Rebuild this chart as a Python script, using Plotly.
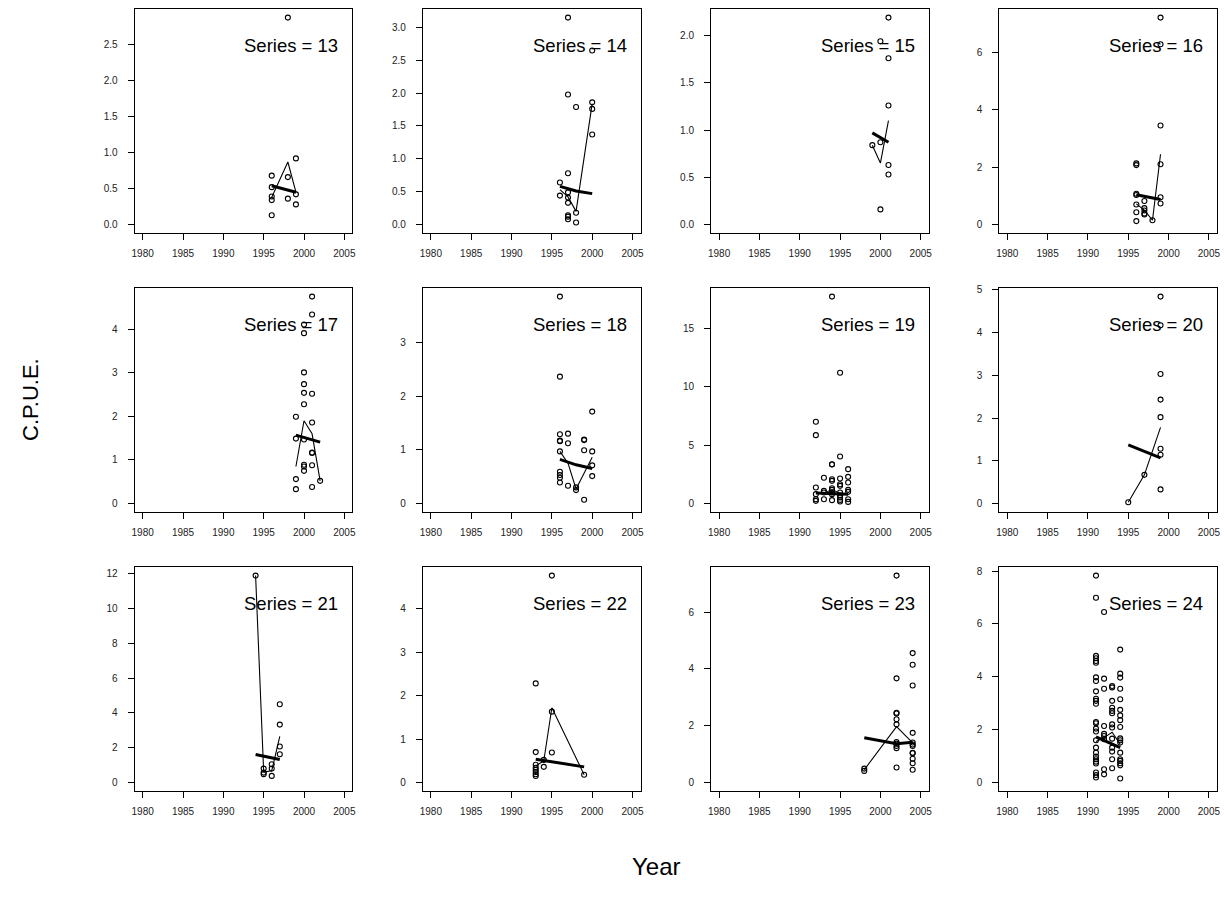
import plotly.graph_objects as go
from plotly.subplots import make_subplots

# ---------------- data ----------------
series_ids = [13, 14, 15, 16, 17, 18, 19, 20, 21, 22, 23, 24]
x_ticks = [1980, 1985, 1990, 1995, 2000, 2005]

s13_pts = {1996: [0.68, 0.52, 0.39, 0.34, 0.13], 1998: [2.88, 0.66, 0.36], 1999: [0.92, 0.42, 0.28]}
s13_mean_year = [1996, 1998, 1999]
s13_mean = [0.38, 0.87, 0.45]
s13_fit_year = [1996, 1999]
s13_fit = [0.54, 0.45]

s14_pts = {1996: [0.64, 0.44], 1997: [3.15, 1.98, 0.78, 0.49, 0.41, 0.33, 0.14, 0.12, 0.08],
           1998: [1.79, 0.18, 0.03], 2000: [2.65, 1.86, 1.76, 1.37]}
s14_mean_year = [1996, 1997, 1998, 2000]
s14_mean = [0.53, 0.42, 0.20, 1.84]
s14_fit_year = [1996, 1998, 2000]
s14_fit = [0.58, 0.51, 0.47]

s15_pts = {1999: [0.84], 2000: [1.94, 0.87, 0.16], 2001: [2.19, 1.76, 1.26, 0.63, 0.53]}
s15_mean_year = [1999, 2000, 2001]
s15_mean = [0.84, 0.65, 1.10]
s15_fit_year = [1999, 2001]
s15_fit = [0.97, 0.87]

s16_pts = {1996: [2.13, 2.07, 1.07, 1.03, 0.70, 0.43, 0.12], 1997: [0.82, 0.57, 0.49, 0.38, 0.35],
           1998: [0.15], 1999: [7.21, 6.28, 3.45, 2.10, 0.95, 0.73]}
s16_mean_year = [1996, 1997, 1998, 1999]
s16_mean = [0.72, 0.50, 0.15, 2.45]
s16_fit_year = [1996, 1999]
s16_fit = [1.04, 0.87]

s17_pts = {1999: [1.99, 1.49, 0.56, 0.33],
           2000: [4.11, 3.91, 3.01, 2.74, 2.54, 2.28, 1.47, 0.89, 0.85, 0.75],
           2001: [4.75, 4.34, 2.52, 1.86, 1.17, 1.16, 0.88, 0.38], 2002: [0.52]}
s17_mean_year = [1999, 2000, 2001, 2002]
s17_mean = [0.85, 1.90, 1.60, 0.52]
s17_fit_year = [1999, 2002]
s17_fit = [1.57, 1.41]

s18_pts = {1996: [3.85, 2.36, 1.29, 1.17, 1.16, 0.97, 0.59, 0.53, 0.48, 0.39], 1997: [1.30, 1.12, 0.33],
           1998: [0.30, 0.25], 1999: [1.19, 1.18, 0.99, 0.07], 2000: [1.71, 0.97, 0.71, 0.51]}
s18_mean_year = [1996, 1997, 1998, 1999, 2000]
s18_mean = [0.97, 0.75, 0.27, 0.56, 0.86]
s18_fit_year = [1996, 1998, 2000]
s18_fit = [0.82, 0.72, 0.65]

s19_pts = {1992: [6.99, 5.85, 1.37, 0.80, 0.37, 0.23], 1993: [2.20, 1.08, 0.94, 0.37],
           1994: [17.7, 3.36, 3.34, 2.08, 1.94, 1.31, 1.17, 0.94, 0.80, 0.29],
           1995: [11.18, 4.02, 2.14, 1.65, 1.51, 0.94, 0.71, 0.51, 0.31, 0.17],
           1996: [2.94, 2.28, 1.80, 1.17, 1.00, 0.37, 0.14]}
s19_mean_year = [1992, 1993, 1994, 1995, 1996]
s19_mean = [0.95, 0.88, 1.20, 0.85, 0.75]
s19_fit_year = [1992, 1996]
s19_fit = [0.90, 0.80]

s20_pts = {1995: [0.03], 1997: [0.67], 1999: [4.84, 4.17, 3.03, 2.43, 2.02, 1.28, 1.14, 0.33]}
s20_mean_year = [1995, 1997, 1999]
s20_mean = [0.03, 0.67, 1.78]
s20_fit_year = [1995, 1999]
s20_fit = [1.37, 1.07]

s21_pts = {1994: [11.9], 1995: [0.80, 0.57, 0.48], 1996: [1.05, 0.80, 0.38], 1997: [4.50, 3.33, 2.07, 1.63]}
s21_mean_year = [1994, 1995, 1996, 1997]
s21_mean = [11.9, 0.60, 0.68, 2.65]
s21_fit_year = [1994, 1997]
s21_fit = [1.61, 1.32]

s22_pts = {1993: [2.28, 0.70, 0.41, 0.34, 0.29, 0.24, 0.19, 0.15], 1994: [0.52, 0.36],
           1995: [4.76, 1.63, 0.69], 1999: [0.18]}
s22_mean_year = [1993, 1994, 1995, 1999]
s22_mean = [0.38, 0.50, 1.72, 0.18]
s22_fit_year = [1993, 1999]
s22_fit = [0.535, 0.36]

s23_pts = {1998: [0.49, 0.41],
           2002: [7.29, 3.67, 2.46, 2.43, 2.23, 2.05, 1.43, 1.37, 1.29, 1.21, 0.53],
           2004: [4.56, 4.15, 3.42, 1.75, 1.41, 1.34, 1.29, 1.05, 1.03, 0.84, 0.68, 0.45]}
s23_mean_year = [1998, 2002, 2004]
s23_mean = [0.45, 1.97, 1.40]
s23_fit_year = [1998, 2002, 2004]
s23_fit = [1.58, 1.37, 1.42]

s24_pts = {1991: [7.83, 6.99, 4.79, 4.70, 4.60, 4.53, 3.98, 3.84, 3.45, 3.17, 3.09, 2.98, 2.29, 2.24,
                  2.04, 1.93, 1.60, 1.32, 1.13, 0.98, 0.88, 0.79, 0.72, 0.38, 0.28, 0.19],
           1992: [6.45, 3.93, 3.55, 2.14, 1.84, 1.76, 1.64, 0.50, 0.31],
           1993: [3.65, 3.60, 3.09, 2.83, 2.71, 2.62, 2.20, 2.08, 1.66, 1.32, 1.17, 0.88, 0.54],
           1994: [5.03, 4.12, 3.97, 3.55, 3.15, 2.75, 2.54, 2.36, 2.10, 1.67, 1.60, 1.51, 1.13, 0.88,
                  0.82, 0.73, 0.65, 0.15]}
s24_mean_year = [1991, 1992, 1993, 1994]
s24_mean = [1.55, 1.70, 1.90, 1.45]
s24_fit_year = [1991, 1994]
s24_fit = [1.73, 1.32]

y_ticks = {
    13: [0.0, 0.5, 1.0, 1.5, 2.0, 2.5],
    14: [0.0, 0.5, 1.0, 1.5, 2.0, 2.5, 3.0],
    15: [0.0, 0.5, 1.0, 1.5, 2.0],
    16: [0, 2, 4, 6],
    17: [0, 1, 2, 3, 4],
    18: [0, 1, 2, 3],
    19: [0, 5, 10, 15],
    20: [0, 1, 2, 3, 4, 5],
    21: [0, 2, 4, 6, 8, 10, 12],
    22: [0, 1, 2, 3, 4],
    23: [0, 2, 4, 6],
    24: [0, 2, 4, 6, 8],
}
y_tick_decimals = {13: 1, 14: 1, 15: 1}

panels = {
    13: (s13_pts, s13_mean_year, s13_mean, s13_fit_year, s13_fit),
    14: (s14_pts, s14_mean_year, s14_mean, s14_fit_year, s14_fit),
    15: (s15_pts, s15_mean_year, s15_mean, s15_fit_year, s15_fit),
    16: (s16_pts, s16_mean_year, s16_mean, s16_fit_year, s16_fit),
    17: (s17_pts, s17_mean_year, s17_mean, s17_fit_year, s17_fit),
    18: (s18_pts, s18_mean_year, s18_mean, s18_fit_year, s18_fit),
    19: (s19_pts, s19_mean_year, s19_mean, s19_fit_year, s19_fit),
    20: (s20_pts, s20_mean_year, s20_mean, s20_fit_year, s20_fit),
    21: (s21_pts, s21_mean_year, s21_mean, s21_fit_year, s21_fit),
    22: (s22_pts, s22_mean_year, s22_mean, s22_fit_year, s22_fit),
    23: (s23_pts, s23_mean_year, s23_mean, s23_fit_year, s23_fit),
    24: (s24_pts, s24_mean_year, s24_mean, s24_fit_year, s24_fit),
}

# ---------------- layout geometry (screen pixels; page margin removed) ----------------
W, H = 1224, 908
col_left = [134.6, 422.8, 711.0, 999.2]
row_top = [9.3, 288.3, 567.3]
pw, ph = 217.8, 223.5


def fx(px):
    return min(1.0, max(0.0, px / W))


def fy(py):
    return min(1.0, max(0.0, 1 - py / H))


FONT = "Arial, Liberation Sans, Helvetica, sans-serif"

fig = make_subplots(rows=3, cols=4)

for idx, sid in enumerate(series_ids):
    r, c = divmod(idx, 4)
    pts, my, mv, fyr, fv = panels[sid]
    xs, ys = [], []
    for yr, vals in pts.items():
        for v in vals:
            xs.append(yr)
            ys.append(v)
    fig.add_trace(go.Scatter(x=xs, y=ys, mode="markers",
                             marker=dict(symbol="circle-open", size=5, color="black",
                                         line=dict(width=1.1, color="black")),
                             showlegend=False, hoverinfo="x+y"), row=r + 1, col=c + 1)
    fig.add_trace(go.Scatter(x=my, y=mv, mode="lines", line=dict(color="black", width=1.1),
                             showlegend=False), row=r + 1, col=c + 1)
    fig.add_trace(go.Scatter(x=fyr, y=fv, mode="lines", line=dict(color="black", width=3),
                             showlegend=False), row=r + 1, col=c + 1)

    ymax = max(max(ys), max(mv), max(fv))
    ymin = 0.0
    pad = 0.04 * (ymax - ymin)
    dec = y_tick_decimals.get(sid, 0)
    ticktext = [f"{t:.{dec}f}" for t in y_ticks[sid]]

    x0, x1 = fx(col_left[c]), fx(col_left[c] + pw)
    y0, y1 = fy(row_top[r] + ph), fy(row_top[r])

    axis_common = dict(showline=True, mirror=True, linecolor="black", linewidth=1,
                       ticks="outside", ticklen=6, tickwidth=1, tickcolor="black",
                       showgrid=False, zeroline=False, automargin=False,
                       ticklabeloverflow="allow",
                       tickfont=dict(family=FONT, size=10, color="#222"))
    fig.update_xaxes(range=[1979, 2006], tickvals=x_ticks, ticktext=[str(t) for t in x_ticks],
                     domain=[x0, x1], ticklabelstandoff=5, row=r + 1, col=c + 1, **axis_common)
    fig.update_yaxes(range=[ymin - pad, ymax + pad], tickvals=y_ticks[sid], ticktext=ticktext,
                     domain=[y0, y1], ticklabelstandoff=8, row=r + 1, col=c + 1, **axis_common)

    ax_suffix = "" if idx == 0 else str(idx + 1)
    fig.add_annotation(text=f"Series = {sid}", xref=f"x{ax_suffix} domain", yref=f"y{ax_suffix} domain",
                       x=0.72, y=0.84, xanchor="center", yanchor="middle", showarrow=False,
                       font=dict(family=FONT, size=18.5, color="black"))

fig.add_annotation(text="C.P.U.E.", xref="paper", yref="paper", x=fx(30), y=fy(400),
                   textangle=-90, showarrow=False, xanchor="center", yanchor="middle",
                   font=dict(family=FONT, size=22, color="black"))
fig.add_annotation(text="Year", xref="paper", yref="paper", x=fx(656), y=fy(866),
                   showarrow=False, xanchor="center", yanchor="middle",
                   font=dict(family=FONT, size=24, color="black"))

fig.update_layout(width=W, height=H, margin=dict(l=0, r=0, t=0, b=0, autoexpand=False),
                  paper_bgcolor="white", plot_bgcolor="white", showlegend=False)

fig.write_html("out.html", config={"displayModeBar": False},
               post_script="document.body.style.margin='0';document.body.style.overflow='hidden';")
